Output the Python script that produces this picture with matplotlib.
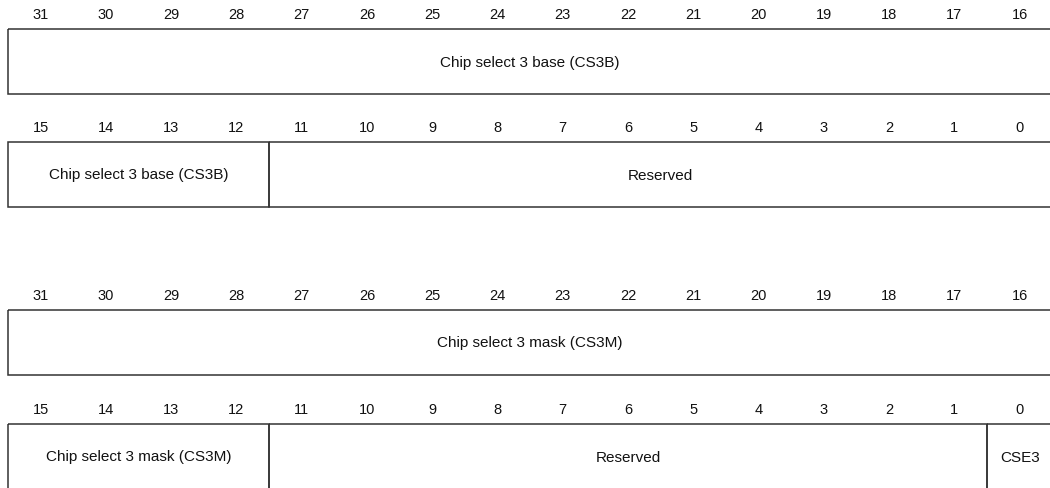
import matplotlib.pyplot as plt
from matplotlib.patches import Rectangle

plt.rcParams['font.family'] = ['Liberation Sans', 'DejaVu Sans']

# bits de cada fila (msb a la izquierda)
fila_msb = [31, 15, 31, 15]

# campos de cada fila
campos_fila0 = ["Chip select 3 base (CS3B)"]
msb_fila0 = [31]
lsb_fila0 = [16]

campos_fila1 = ["Chip select 3 base (CS3B)", "Reserved"]
msb_fila1 = [15, 11]
lsb_fila1 = [12, 0]

campos_fila2 = ["Chip select 3 mask (CS3M)"]
msb_fila2 = [31]
lsb_fila2 = [16]

campos_fila3 = ["Chip select 3 mask (CS3M)", "Reserved", "CSE3"]
msb_fila3 = [15, 11, 0]
lsb_fila3 = [12, 1, 0]

campos = [campos_fila0, campos_fila1, campos_fila2, campos_fila3]
msbs = [msb_fila0, msb_fila1, msb_fila2, msb_fila3]
lsbs = [lsb_fila0, lsb_fila1, lsb_fila2, lsb_fila3]

# layout (en pixeles de la imagen)
top_caja = [30, 143, 311, 425]
alto_caja = 65
sep_etiqueta = 15
ancho_bit = 65.27
x0 = 8

fig = plt.figure(figsize=(10.5, 4.89), dpi=100)
ax = fig.add_axes([0, 0, 1, 1])
ax.set_xlim(-x0 / ancho_bit, (1050 - x0) / ancho_bit)
ax.set_ylim(489, 0)
ax.axis('off')

col_linea = '#333333'

for r in range(len(fila_msb)):
    top = top_caja[r]
    # numeros de bit
    for k in range(16):
        bit = fila_msb[r] - k
        ax.text(k + 0.5, top - sep_etiqueta, str(bit), ha='center', va='center',
                fontsize=10.5, color='#111111')
    # campos
    for nombre, m, l in zip(campos[r], msbs[r], lsbs[r]):
        c0 = fila_msb[r] - m
        c1 = fila_msb[r] - l + 1
        rect = Rectangle((c0, top), c1 - c0, alto_caja, fill=False,
                         edgecolor=col_linea, linewidth=1.1)
        ax.add_patch(rect)
        ax.text((c0 + c1) / 2, top + alto_caja / 2, nombre, ha='center', va='center',
                fontsize=11, color='#111111')

fig.savefig('out.png', dpi=100)
